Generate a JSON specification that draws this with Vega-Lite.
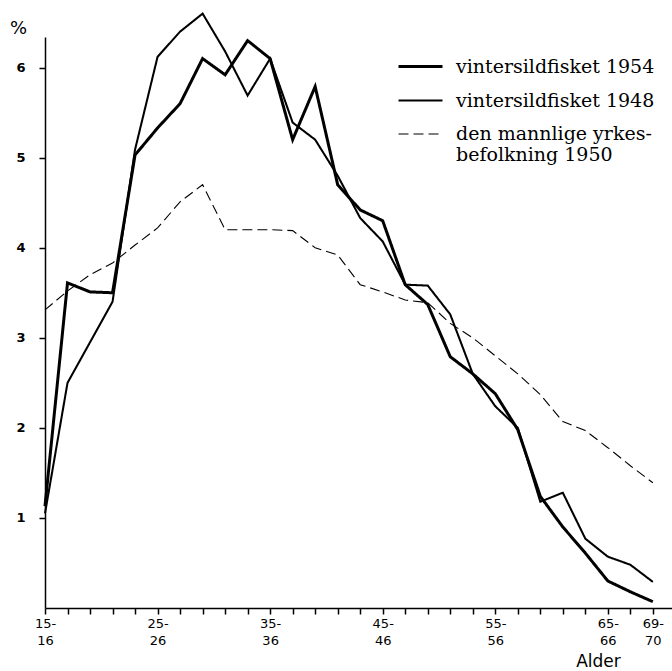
{
  "$schema": "https://vega.github.io/schema/vega-lite/v6.json",
  "width": 627,
  "height": 571,
  "autosize": "none",
  "padding": {"left": 45, "top": 37, "right": 0, "bottom": 63},
  "background": "white",
  "config": {"view": {"stroke": null}},
  "data": {"values": [
    {"gruppe": 0, "serie": "vintersildfisket 1954", "pct": 1.13},
    {"gruppe": 1, "serie": "vintersildfisket 1954", "pct": 3.61},
    {"gruppe": 2, "serie": "vintersildfisket 1954", "pct": 3.51},
    {"gruppe": 3, "serie": "vintersildfisket 1954", "pct": 3.50},
    {"gruppe": 4, "serie": "vintersildfisket 1954", "pct": 5.03},
    {"gruppe": 5, "serie": "vintersildfisket 1954", "pct": 5.33},
    {"gruppe": 6, "serie": "vintersildfisket 1954", "pct": 5.60},
    {"gruppe": 7, "serie": "vintersildfisket 1954", "pct": 6.10},
    {"gruppe": 8, "serie": "vintersildfisket 1954", "pct": 5.92},
    {"gruppe": 9, "serie": "vintersildfisket 1954", "pct": 6.30},
    {"gruppe": 10, "serie": "vintersildfisket 1954", "pct": 6.10},
    {"gruppe": 11, "serie": "vintersildfisket 1954", "pct": 5.20},
    {"gruppe": 12, "serie": "vintersildfisket 1954", "pct": 5.79},
    {"gruppe": 13, "serie": "vintersildfisket 1954", "pct": 4.70},
    {"gruppe": 14, "serie": "vintersildfisket 1954", "pct": 4.42},
    {"gruppe": 15, "serie": "vintersildfisket 1954", "pct": 4.30},
    {"gruppe": 16, "serie": "vintersildfisket 1954", "pct": 3.59},
    {"gruppe": 17, "serie": "vintersildfisket 1954", "pct": 3.37},
    {"gruppe": 18, "serie": "vintersildfisket 1954", "pct": 2.79},
    {"gruppe": 19, "serie": "vintersildfisket 1954", "pct": 2.60},
    {"gruppe": 20, "serie": "vintersildfisket 1954", "pct": 2.38},
    {"gruppe": 21, "serie": "vintersildfisket 1954", "pct": 1.98},
    {"gruppe": 22, "serie": "vintersildfisket 1954", "pct": 1.24},
    {"gruppe": 23, "serie": "vintersildfisket 1954", "pct": 0.90},
    {"gruppe": 24, "serie": "vintersildfisket 1954", "pct": 0.61},
    {"gruppe": 25, "serie": "vintersildfisket 1954", "pct": 0.30},
    {"gruppe": 26, "serie": "vintersildfisket 1954", "pct": 0.18},
    {"gruppe": 27, "serie": "vintersildfisket 1954", "pct": 0.07},
    {"gruppe": 0, "serie": "vintersildfisket 1948", "pct": 1.05},
    {"gruppe": 1, "serie": "vintersildfisket 1948", "pct": 2.50},
    {"gruppe": 2, "serie": "vintersildfisket 1948", "pct": 2.95},
    {"gruppe": 3, "serie": "vintersildfisket 1948", "pct": 3.40},
    {"gruppe": 4, "serie": "vintersildfisket 1948", "pct": 5.09},
    {"gruppe": 5, "serie": "vintersildfisket 1948", "pct": 6.12},
    {"gruppe": 6, "serie": "vintersildfisket 1948", "pct": 6.40},
    {"gruppe": 7, "serie": "vintersildfisket 1948", "pct": 6.60},
    {"gruppe": 8, "serie": "vintersildfisket 1948", "pct": 6.18},
    {"gruppe": 9, "serie": "vintersildfisket 1948", "pct": 5.69},
    {"gruppe": 10, "serie": "vintersildfisket 1948", "pct": 6.10},
    {"gruppe": 11, "serie": "vintersildfisket 1948", "pct": 5.39},
    {"gruppe": 12, "serie": "vintersildfisket 1948", "pct": 5.20},
    {"gruppe": 13, "serie": "vintersildfisket 1948", "pct": 4.80},
    {"gruppe": 14, "serie": "vintersildfisket 1948", "pct": 4.33},
    {"gruppe": 15, "serie": "vintersildfisket 1948", "pct": 4.07},
    {"gruppe": 16, "serie": "vintersildfisket 1948", "pct": 3.59},
    {"gruppe": 17, "serie": "vintersildfisket 1948", "pct": 3.58},
    {"gruppe": 18, "serie": "vintersildfisket 1948", "pct": 3.26},
    {"gruppe": 19, "serie": "vintersildfisket 1948", "pct": 2.60},
    {"gruppe": 20, "serie": "vintersildfisket 1948", "pct": 2.24},
    {"gruppe": 21, "serie": "vintersildfisket 1948", "pct": 2.00},
    {"gruppe": 22, "serie": "vintersildfisket 1948", "pct": 1.18},
    {"gruppe": 23, "serie": "vintersildfisket 1948", "pct": 1.28},
    {"gruppe": 24, "serie": "vintersildfisket 1948", "pct": 0.77},
    {"gruppe": 25, "serie": "vintersildfisket 1948", "pct": 0.57},
    {"gruppe": 26, "serie": "vintersildfisket 1948", "pct": 0.48},
    {"gruppe": 27, "serie": "vintersildfisket 1948", "pct": 0.29},
    {"gruppe": 0, "serie": "den mannlige yrkes-|befolkning 1950", "pct": 3.31},
    {"gruppe": 1, "serie": "den mannlige yrkes-|befolkning 1950", "pct": 3.52},
    {"gruppe": 2, "serie": "den mannlige yrkes-|befolkning 1950", "pct": 3.70},
    {"gruppe": 3, "serie": "den mannlige yrkes-|befolkning 1950", "pct": 3.83},
    {"gruppe": 4, "serie": "den mannlige yrkes-|befolkning 1950", "pct": 4.03},
    {"gruppe": 5, "serie": "den mannlige yrkes-|befolkning 1950", "pct": 4.22},
    {"gruppe": 6, "serie": "den mannlige yrkes-|befolkning 1950", "pct": 4.51},
    {"gruppe": 7, "serie": "den mannlige yrkes-|befolkning 1950", "pct": 4.70},
    {"gruppe": 8, "serie": "den mannlige yrkes-|befolkning 1950", "pct": 4.20},
    {"gruppe": 9, "serie": "den mannlige yrkes-|befolkning 1950", "pct": 4.20},
    {"gruppe": 10, "serie": "den mannlige yrkes-|befolkning 1950", "pct": 4.20},
    {"gruppe": 11, "serie": "den mannlige yrkes-|befolkning 1950", "pct": 4.19},
    {"gruppe": 12, "serie": "den mannlige yrkes-|befolkning 1950", "pct": 4.00},
    {"gruppe": 13, "serie": "den mannlige yrkes-|befolkning 1950", "pct": 3.92},
    {"gruppe": 14, "serie": "den mannlige yrkes-|befolkning 1950", "pct": 3.59},
    {"gruppe": 15, "serie": "den mannlige yrkes-|befolkning 1950", "pct": 3.51},
    {"gruppe": 16, "serie": "den mannlige yrkes-|befolkning 1950", "pct": 3.42},
    {"gruppe": 17, "serie": "den mannlige yrkes-|befolkning 1950", "pct": 3.39},
    {"gruppe": 18, "serie": "den mannlige yrkes-|befolkning 1950", "pct": 3.16},
    {"gruppe": 19, "serie": "den mannlige yrkes-|befolkning 1950", "pct": 3.00},
    {"gruppe": 20, "serie": "den mannlige yrkes-|befolkning 1950", "pct": 2.80},
    {"gruppe": 21, "serie": "den mannlige yrkes-|befolkning 1950", "pct": 2.60},
    {"gruppe": 22, "serie": "den mannlige yrkes-|befolkning 1950", "pct": 2.37},
    {"gruppe": 23, "serie": "den mannlige yrkes-|befolkning 1950", "pct": 2.07},
    {"gruppe": 24, "serie": "den mannlige yrkes-|befolkning 1950", "pct": 1.97},
    {"gruppe": 25, "serie": "den mannlige yrkes-|befolkning 1950", "pct": 1.78},
    {"gruppe": 26, "serie": "den mannlige yrkes-|befolkning 1950", "pct": 1.58},
    {"gruppe": 27, "serie": "den mannlige yrkes-|befolkning 1950", "pct": 1.39}
  ]},
  "mark": {"type": "line", "color": "black", "strokeJoin": "miter", "clip": false},
  "encoding": {
    "x": {
      "field": "gruppe", "type": "quantitative",
      "scale": {"domain": [0, 27.85], "nice": false, "zero": false},
      "axis": {
        "values": [0,1,2,3,4,5,6,7,8,9,10,11,12,13,14,15,16,17,18,19,20,21,22,23,24,25,26,27],
        "labelExpr": "(datum.value % 5 == 0 || datum.value == 27) ? [toString(15 + 2*datum.value) + '-', toString(16 + 2*datum.value)] : ''",
        "grid": false, "domainColor": "black", "domainWidth": 1.5, "tickColor": "black", "tickWidth": 1.5, "tickSize": 6,
        "labelFont": "DejaVu Sans", "labelFontSize": 13, "labelColor": "black", "labelLineHeight": 17,
        "labelAlign": "center", "labelDx": 3, "labelPadding": 3, "labelOverlap": false, "labelFlush": false,
        "title": "Alder", "titleFont": "DejaVu Sans", "titleFontSize": 17, "titleFontWeight": "normal", "titleColor": "black",
        "titleX": 553, "titleY": 58, "titleAlign": "center", "titleBaseline": "alphabetic"
      }
    },
    "y": {
      "field": "pct", "type": "quantitative",
      "scale": {"domain": [0, 6.34], "nice": false, "zero": true},
      "axis": {
        "values": [1,2,3,4,5,6],
        "grid": false, "domainColor": "black", "domainWidth": 1.5, "tickColor": "black", "tickWidth": 1.5, "tickSize": 6,
        "labelFont": "DejaVu Sans", "labelFontSize": 13, "labelFontWeight": "bold", "labelColor": "black", "labelPadding": 14,
        "title": "%", "titleFont": "DejaVu Sans", "titleFontSize": 18, "titleFontWeight": "normal", "titleColor": "black",
        "titleAngle": 0, "titleX": -27, "titleY": -9, "titleAlign": "center", "titleBaseline": "middle"
      }
    },
    "strokeDash": {
      "field": "serie", "type": "nominal",
      "scale": {"domain": ["vintersildfisket 1954", "vintersildfisket 1948", "den mannlige yrkes-|befolkning 1950"], "range": [[1,0],[1,0],[10,5]]},
      "legend": {
        "orient": "none", "legendX": 352, "legendY": 6, "title": null, "padding": 0,
        "symbolType": "stroke", "symbolSize": 1936, "symbolStrokeColor": "black",
        "labelFont": "DejaVu Serif", "labelFontSize": 19, "labelColor": "black", "labelOffset": 12, "labelLimit": 400,
        "labelExpr": "split(datum.label, '|')", "rowPadding": -13
      }
    },
    "strokeWidth": {
      "field": "serie", "type": "nominal",
      "scale": {"domain": ["vintersildfisket 1954", "vintersildfisket 1948", "den mannlige yrkes-|befolkning 1950"], "range": [3, 1.1, 2]},
      "legend": {
        "orient": "none", "legendX": 352, "legendY": 6, "title": null, "padding": 0,
        "symbolType": "stroke", "symbolSize": 1936, "symbolStrokeColor": "black",
        "labelFont": "DejaVu Serif", "labelFontSize": 19, "labelColor": "black", "labelOffset": 12, "labelLimit": 400,
        "labelExpr": "split(datum.label, '|')", "rowPadding": -13
      }
    }
  }
}
